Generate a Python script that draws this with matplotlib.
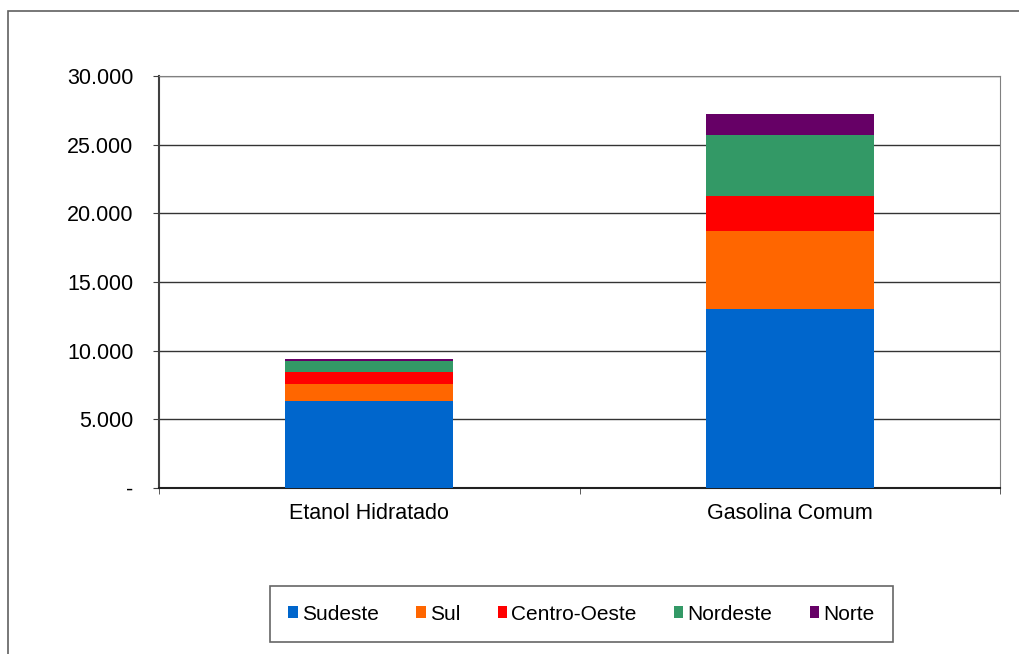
import matplotlib.pyplot as plt
import numpy as np
from matplotlib.patches import Rectangle

plt.rcParams['font.family'] = ['Liberation Sans', 'DejaVu Sans']

categories = ['Etanol Hidratado', 'Gasolina Comum']
regions = ['Sudeste', 'Sul', 'Centro-Oeste', 'Nordeste', 'Norte']
colors = ['#0066CC', '#FF6600', '#FF0000', '#339966', '#660066']

sudeste = [6300, 13040]
sul = [1270, 5680]
centro_oeste = [900, 2570]
nordeste = [780, 4400]
norte = [120, 1550]

yticks = [0, 5000, 10000, 15000, 20000, 25000, 30000]
ytick_labels = ['-', '5.000', '10.000', '15.000', '20.000', '25.000', '30.000']

series = [sudeste, sul, centro_oeste, nordeste, norte]

fig = plt.figure(figsize=(10.19, 6.54), dpi=100)
ax = fig.add_axes([159 / 1019, 1 - 488 / 654, (1000 - 159) / 1019, (488 - 76) / 654])

x = np.arange(len(categories))
bottom = np.zeros(len(categories))
for name, vals, c in zip(regions, series, colors):
    ax.bar(x, vals, width=0.4, bottom=bottom, color=c, label=name, zorder=3)
    bottom += np.array(vals)

ax.set_xlim(-0.5, 1.5)
ax.set_ylim(0, 30000)
ax.set_yticks(yticks)
ax.set_yticklabels(ytick_labels, fontsize=15.5)
ax.set_xticks(x)
ax.set_xticklabels(categories, fontsize=15.5)
ax.set_xticks([-0.5, 0.5, 1.5], minor=True)
ax.tick_params(axis='x', which='major', length=0, pad=11)
ax.tick_params(axis='x', which='minor', length=4.5, color='#404040')
ax.tick_params(axis='y', length=4.5, color='#404040', pad=14)
ax.yaxis.grid(True, color='#333333', linewidth=1.0, zorder=0)

for side in ['top', 'right']:
    ax.spines[side].set_color('#808080')
ax.spines['left'].set_color('#404040')
ax.spines['bottom'].set_color('#202020')
ax.spines['left'].set_linewidth(1.5)
ax.spines['bottom'].set_linewidth(1.5)

# outer chart frame
fig.patches.append(Rectangle((8 / 1019, -0.01), 1.0, 1 - 11 / 654 + 0.01,
                             transform=fig.transFigure, fill=False,
                             edgecolor='#606060', linewidth=1.2))

leg = fig.legend(loc='center', bbox_to_anchor=(581.5 / 1019, 1 - 614 / 654),
                 ncol=5, fontsize=15, frameon=True, fancybox=False,
                 handlelength=0.45, handleheight=0.45, handletextpad=0.2,
                 columnspacing=1.8, borderpad=0.9, borderaxespad=0)
leg.get_frame().set_edgecolor('#404040')
leg.get_frame().set_linewidth(1.2)

fig.savefig('out.png', dpi=100)
